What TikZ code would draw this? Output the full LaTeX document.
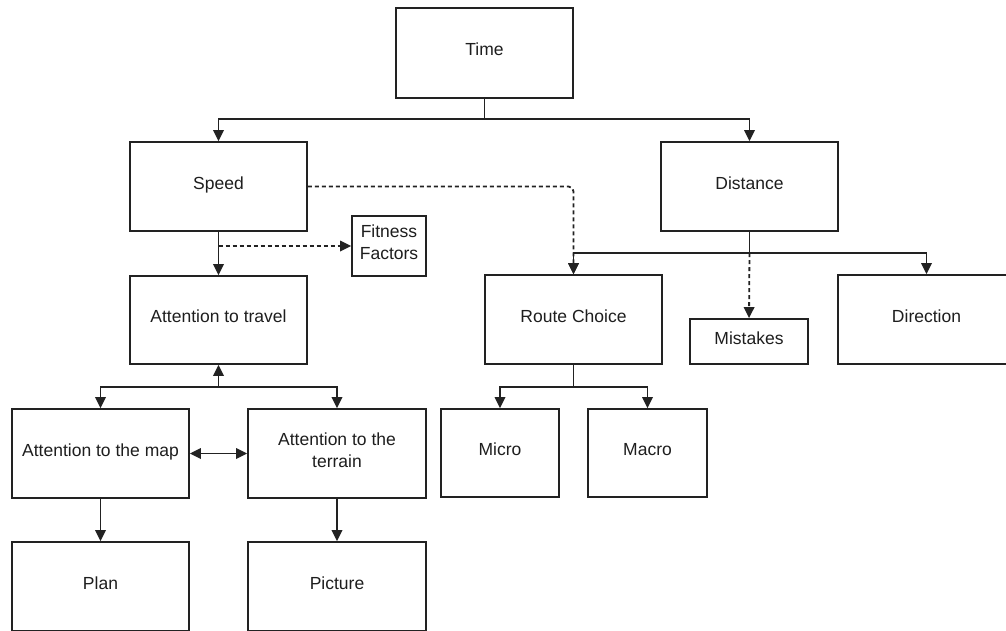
\documentclass[tikz,border=0pt]{standalone}
\usepackage{fontspec}
\setmainfont{Liberation Sans}
\usetikzlibrary{arrows.meta}
\definecolor{linec}{HTML}{222222}
\definecolor{textc}{HTML}{1E1E1E}
\tikzset{
  box/.style={draw=linec, line width=1.8pt, minimum width=177pt, minimum height=89pt, inner sep=0pt,
    align=center, text=textc, font=\fontsize{17.5}{22}\selectfont, text depth=7pt},
  conn/.style={draw=linec, line width=1.8pt},
  arr/.style={conn, -{Triangle[length=11pt,width=10.5pt]}},
  darr/.style={conn, {Triangle[length=11pt,width=10.5pt]}-{Triangle[length=11pt,width=10.5pt]}},
  dasharr/.style={arr, dash pattern=on 4pt off 3pt},
}
\begin{document}
\begin{tikzpicture}[x=1pt,y=-1pt]
\useasboundingbox (0,0) rectangle (1006,630);
\fill[white] (0,0) rectangle (1006,630);
\node[box, minimum height=90pt] (time) at (484.5,53) {Time};
\node[box] (speed) at (218.5,186.5) {Speed};
\node[box] (distance) at (749.5,186.5) {Distance};
\node[box, minimum width=74pt, minimum height=60pt] (fitness) at (389,246) {Fitness\\Factors};
\node[box, minimum height=88pt] (travel) at (218.5,320) {Attention to travel};
\node[box] (route) at (573.5,319.5) {Route Choice};
\node[box, minimum width=118pt, minimum height=45pt] (mistakes) at (749,341.5) {Mistakes};
\node[box] (direction) at (926.5,319.5) {Direction};
\node[box] (map) at (100.5,453.5) {Attention to the map};
\node[box, minimum width=178pt] (terrain) at (337,453.5) {Attention to the\\terrain};
\node[box, minimum width=118pt, minimum height=88pt] (micro) at (500,453) {Micro};
\node[box, minimum width=119pt, minimum height=88pt] (macro) at (647.5,453) {Macro};
\node[box] (plan) at (100.5,586.5) {Plan};
\node[box, minimum width=178pt] (picture) at (337,586.5) {Picture};

\coordinate (tj) at (484.5,119);
\coordinate (dj) at (749.5,253);
\coordinate (aj) at (218.5,387);
\coordinate (rj) at (573.5,387);

\draw[conn] (time.south) -- (tj);
\draw[arr] (tj) -| (speed.north);
\draw[arr] (tj) -| (distance.north);
\draw[dasharr, rounded corners=5pt] (speed.east) -| (route.north);
\draw[arr] (speed.south) -- (travel.north);
\draw[dasharr] (speed.south |- fitness.west) -- (fitness.west);
\draw[conn] (distance.south) -- (dj);
\draw[arr] (dj) -| (route.north);
\draw[arr] (dj) -| (direction.north);
\draw[dasharr] (dj) -- (mistakes.north);
\draw[arr] (aj) -- (travel.south);
\draw[arr] (aj) -| (map.north);
\draw[arr] (aj) -| (terrain.north);
\draw[darr] (map.east) -- (terrain.west);
\draw[arr] (map.south) -- (plan.north);
\draw[arr] (terrain.south) -- (picture.north);
\draw[conn] (route.south) -- (rj);
\draw[arr] (rj) -| (micro.north);
\draw[arr] (rj) -| (macro.north);
\end{tikzpicture}
\end{document}
